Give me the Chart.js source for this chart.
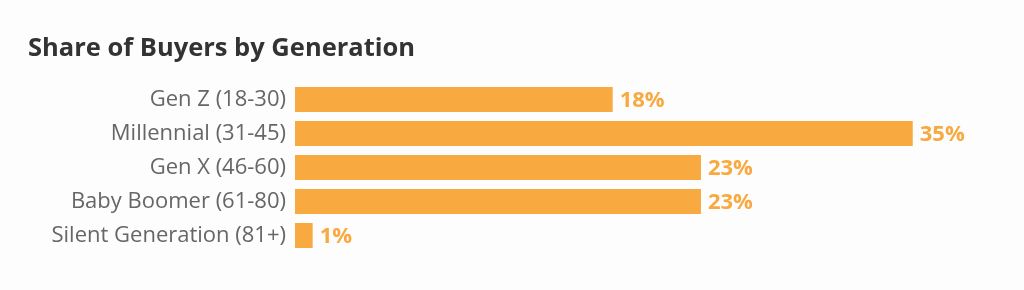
<!DOCTYPE html>
<html>
<head>
<meta charset="utf-8">
<script src="https://cdn.jsdelivr.net/npm/chart.js@4/dist/chart.umd.min.js"></script>
<style>
  html, body { margin: 0; padding: 0; background: #fdfdfd; }
  #wrap { width: 1024px; height: 290px; }
</style>
</head>
<body>
<div id="wrap"><canvas id="chart" width="1024" height="290"></canvas></div>
<script>
const categories = ['Gen Z (18-30)', 'Millennial (31-45)', 'Gen X (46-60)', 'Baby Boomer (61-80)', 'Silent Generation (81+)'];
const shares = [18, 35, 23, 23, 1];

const barColor = '#f8a940';

// Draws the percent next to each bar
const valueLabels = {
  id: 'valueLabels',
  afterDatasetsDraw(chart) {
    const ctx = chart.ctx;
    const meta = chart.getDatasetMeta(0);
    ctx.save();
    ctx.font = 'bold 22px "Open Sans"';
    ctx.fillStyle = barColor;
    ctx.textAlign = 'left';
    ctx.textBaseline = 'middle';
    meta.data.forEach((bar, i) => {
      ctx.fillText(shares[i] + '%', bar.x + 7, bar.y + 1);
    });
    ctx.restore();
  }
};

new Chart(document.getElementById('chart'), {
  type: 'bar',
  data: {
    labels: categories,
    datasets: [{
      data: shares,
      backgroundColor: barColor,
      barPercentage: 1,
      categoryPercentage: 0.735
    }]
  },
  options: {
    indexAxis: 'y',
    responsive: false,
    animation: false,
    layout: { padding: { left: 28, right: 23, top: 0, bottom: 37.5 } },
    plugins: {
      legend: { display: false },
      tooltip: { enabled: false },
      title: {
        display: true,
        text: 'Share of Buyers by Generation',
        align: 'start',
        color: '#333333',
        font: { family: '"Open Sans"', size: 25.5, weight: 'bold' },
        padding: { top: 33, bottom: 19 }
      }
    },
    scales: {
      x: {
        display: false,
        min: 0,
        max: 40
      },
      y: {
        grid: { display: false },
        border: { display: false },
        ticks: {
          color: '#666666',
          padding: 1,
          font: { family: '"Open Sans"', size: 22 }
        },
        afterFit(scale) { scale.width = 267; }
      }
    }
  },
  plugins: [valueLabels]
});
</script>
</body>
</html>
